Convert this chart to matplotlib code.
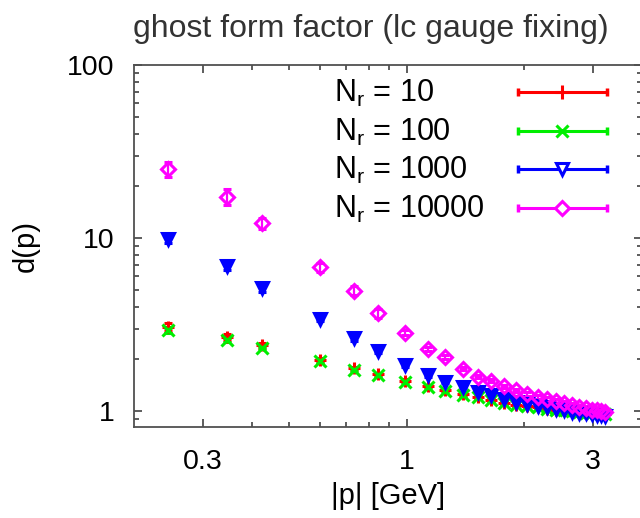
import matplotlib
matplotlib.use("Agg")
import matplotlib.pyplot as plt
from matplotlib.ticker import FixedLocator, NullFormatter, FuncFormatter

# momentum values |p| in GeV
p = [0.245, 0.346, 0.425, 0.598, 0.732, 0.845, 0.99, 1.13, 1.25, 1.39, 1.52, 1.64, 1.77,
     1.90, 2.03, 2.16, 2.29, 2.41, 2.53, 2.65, 2.76, 2.87, 2.97, 3.06, 3.14, 3.21]

# ghost dressing d(p) for each number of random copies N_r
d_10 = [3.07, 2.69, 2.40, 1.98, 1.77, 1.63, 1.50, 1.40, 1.32, 1.25, 1.21, 1.16, 1.12,
        1.09, 1.07, 1.05, 1.03, 1.02, 1.01, 1.00, 0.99, 0.98, 0.97, 0.97, 0.96, 0.96]
d_100 = [2.94, 2.57, 2.33, 1.94, 1.74, 1.61, 1.48, 1.38, 1.31, 1.24, 1.21, 1.16, 1.12,
         1.09, 1.07, 1.05, 1.03, 1.02, 1.01, 1.00, 0.99, 0.98, 0.97, 0.97, 0.96, 0.96]
d_1000 = [9.9, 6.92, 5.12, 3.43, 2.63, 2.22, 1.85, 1.61, 1.48, 1.38, 1.29, 1.24, 1.18,
          1.13, 1.10, 1.07, 1.05, 1.03, 1.01, 0.99, 0.98, 0.97, 0.96, 0.95, 0.95, 0.94]
d_10000 = [25.1, 17.3, 12.2, 6.8, 4.96, 3.67, 2.84, 2.30, 2.06, 1.76, 1.58, 1.50, 1.39,
           1.32, 1.26, 1.21, 1.17, 1.14, 1.11, 1.08, 1.06, 1.04, 1.02, 1.01, 1.00, 0.99]

# error bars
e_10 = [0.15, 0.10, 0.08, 0.05, 0.04, 0.03, 0.03, 0.02, 0.02, 0.02, 0.02, 0.02, 0.02,
        0.02, 0.02, 0.02, 0.02, 0.02, 0.02, 0.02, 0.02, 0.02, 0.02, 0.02, 0.02, 0.02]
e_100 = [0.10, 0.07, 0.05, 0.04, 0.03, 0.02, 0.02, 0.02, 0.02, 0.02, 0.02, 0.02, 0.02,
         0.02, 0.02, 0.02, 0.02, 0.02, 0.02, 0.02, 0.02, 0.02, 0.02, 0.02, 0.02, 0.02]
e_1000 = [0.5, 0.35, 0.25, 0.12, 0.08, 0.05, 0.04, 0.03, 0.03, 0.02, 0.02, 0.02, 0.02,
          0.02, 0.02, 0.02, 0.02, 0.02, 0.02, 0.02, 0.02, 0.02, 0.02, 0.02, 0.02, 0.02]
e_10000 = [2.5, 1.8, 0.9, 0.4, 0.3, 0.2, 0.1, 0.06, 0.05, 0.04, 0.03, 0.03, 0.03,
           0.03, 0.03, 0.03, 0.03, 0.03, 0.03, 0.03, 0.03, 0.03, 0.03, 0.03, 0.03, 0.03]

labels = ["10", "100", "1000", "10000"]

plt.rcParams['font.family'] = ['Liberation Sans', 'DejaVu Sans']

fig = plt.figure(figsize=(6.4, 5.18), dpi=100)
ax = fig.add_axes([134 / 640, 91 / 518, 508 / 640, 362 / 518])

# style for each series: colour, marker, size, filled
styles = [
    ("#ff0000", "+", 9, True),
    ("#00ee00", "x", 8, True),
    ("#0000ff", "v", 8.5, True),
    ("#ff00ff", "D", 7, False),
]
series = [(d_10, e_10), (d_100, e_100), (d_1000, e_1000), (d_10000, e_10000)]

for (d, e), (col, mk, ms, filled) in zip(series, styles):
    ax.errorbar(p, d, yerr=e, fmt=mk, color=col, ms=ms, mew=2.2,
                mfc=col if filled else "none", mec=col,
                elinewidth=1.6, capsize=3, capthick=1.6)

ax.set_xscale("log")
ax.set_yscale("log")
ax.set_xlim(0.2, 4)
ax.set_ylim(0.81, 100)

ax.xaxis.set_major_locator(FixedLocator([0.3, 1, 3]))
ax.xaxis.set_minor_locator(FixedLocator([0.4, 0.5, 0.6, 0.7, 0.8, 0.9, 2]))
ax.xaxis.set_major_formatter(FuncFormatter(lambda v, pos: "%g" % v))
ax.xaxis.set_minor_formatter(NullFormatter())
ax.yaxis.set_major_locator(FixedLocator([1, 10, 100]))
ax.yaxis.set_minor_locator(FixedLocator([0.9, 2, 3, 4, 5, 6, 7, 8, 9,
                                         20, 30, 40, 50, 60, 70, 80, 90]))
ax.yaxis.set_major_formatter(FuncFormatter(lambda v, pos: "%g" % v))
ax.yaxis.set_minor_formatter(NullFormatter())

ax.tick_params(which="both", direction="in", top=True, right=True, colors="#505050",
               labelcolor="black", labelsize=20.5, width=1.3)
ax.tick_params(which="major", length=6)
ax.tick_params(which="minor", length=3.5)
ax.tick_params(axis="x", pad=16)
ax.tick_params(axis="y", pad=14)
for s in ax.spines.values():
    s.set_color("#505050")
    s.set_linewidth(1.3)

ax.set_xlabel("|p| [GeV]", fontsize=21)
ax.set_ylabel("d(p)", fontsize=21)
ax.xaxis.set_label_coords(0.5, -0.153)
ax.yaxis.set_label_coords(-0.185, 0.5)

fig.text(371 / 640, 0.944, "ghost form factor (lc gauge fixing)", ha="center", va="center",
         fontsize=23, family=["Liberation Sans Narrow", "Liberation Sans", "DejaVu Sans"],
         color="#333333")

# key, gnuplot style: text on the left, sample with error caps on the right
row0, drow = 0.925, 0.1064
for i, ((col, mk, ms, filled), lab) in enumerate(zip(styles, labels)):
    y = row0 - i * drow
    ax.text(0.394, y - 0.027, r"N$_\mathregular{r}$ = " + lab, transform=ax.transAxes,
            fontsize=22, va="baseline", ha="left")
    ax.plot([0.756, 0.931], [y, y], color=col, lw=2.2, transform=ax.transAxes,
            clip_on=False)
    ax.plot([0.756, 0.931], [y, y], ls="none", marker="|", ms=6, mew=2.5, color=col,
            transform=ax.transAxes, clip_on=False)
    ax.plot([0.8435], [y], ls="none", marker=mk, ms=ms * 1.05, mew=2.2, color=col,
            mfc="white" if mk in "vD" else col, transform=ax.transAxes, clip_on=False)

fig.savefig("out.png", dpi=100)
